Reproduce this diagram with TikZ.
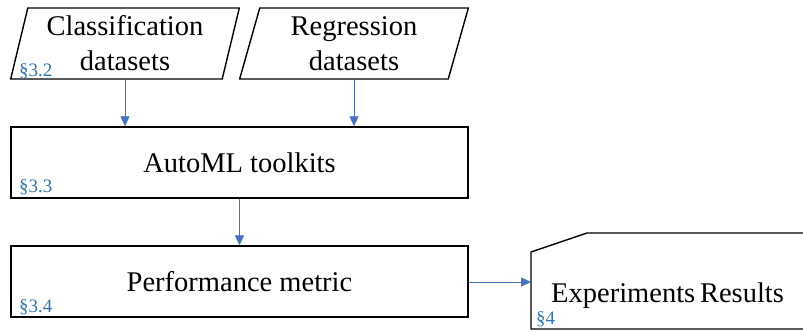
\documentclass[tikz,border=0pt]{standalone}
\usepackage{fontspec}
\setmainfont{Liberation Serif}
\usepackage{tikz}
\usetikzlibrary{shapes,arrows.meta,positioning}
\definecolor{secblue}{RGB}{46,117,182}
\definecolor{arrowblue}{RGB}{68,114,196}

\begin{document}
\begin{tikzpicture}[
    x=1pt, y=-1pt,
    data/.style={trapezium, trapezium left angle=76, trapezium right angle=104, trapezium stretches=true, draw, line width=1.4pt, minimum width=229, minimum height=71, inner sep=0pt, align=center, font=\fontsize{28.5}{35}\selectfont},
    box/.style={rectangle, draw, line width=1.4pt, minimum width=457, minimum height=71, inner sep=0pt, align=center, font=\fontsize{28.5}{35}\selectfont},
    sec/.style={anchor=base west, inner sep=0pt, text=secblue, font=\fontsize{19}{22}\selectfont},
    arrow/.style={-{Triangle[length=10pt,width=9pt]}, arrowblue, line width=0.8pt}
]
    \useasboundingbox (0,0) rectangle (803,332);

    % Nodes
    \node[data] (cls) at (125,43.5) {Classification\\datasets};
    \node[data] (reg) at (354,43.5) {Regression\\datasets};
    \node[box] (automl) at (239.5,162.5) {AutoML toolkits};
    \node[box] (perf) at (239.5,281.5) {Performance metric};

    % Results card
    \draw[line width=1.4pt] (810,233) -- (587,233) -- (531,252) -- (531,329) -- (810,329);
    \coordinate (resin) at (531,282);
    \node[font=\fontsize{28.5}{35}\selectfont, inner sep=0pt, anchor=base west] (res) at (551,302) {Experiments\,Results};

    % Section labels
    \node[sec] (s32) at (19,76) {\S3.2};
    \node[sec] (s33) at (19,192) {\S3.3};
    \node[sec] (s34) at (19,312) {\S3.4};
    \node[sec] (s4) at (536,324) {\S4};

    % Arrows
    \draw[arrow] (cls.south) -- (cls.south |- automl.north);
    \draw[arrow] (reg.south) -- (reg.south |- automl.north);
    \draw[arrow] (automl) -- (perf);
    \draw[arrow] (perf.east |- resin) -- (resin);

\end{tikzpicture}
\end{document}
